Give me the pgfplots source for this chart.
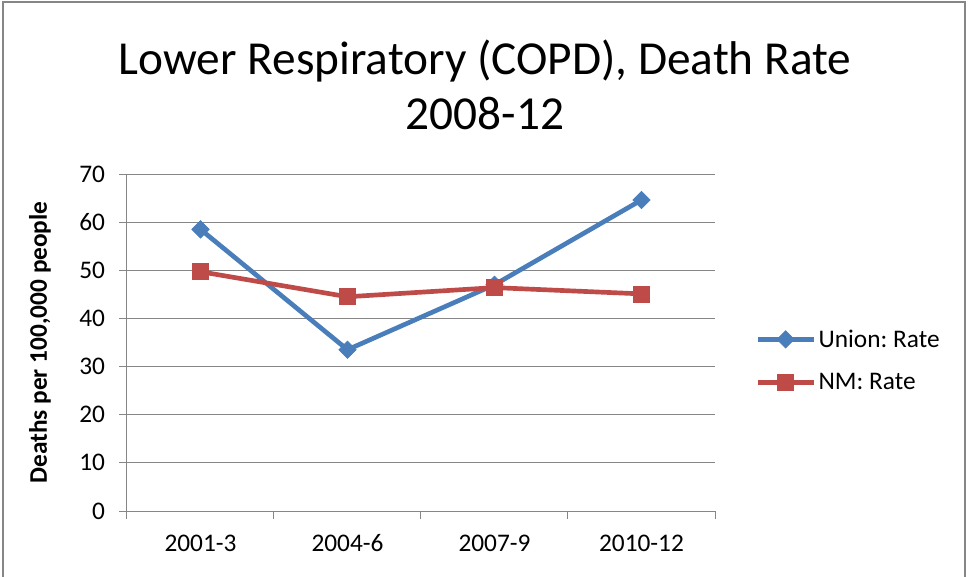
\documentclass[border=0pt]{standalone}
\usepackage{fontspec}
\setmainfont{Carlito}
\usepackage{pgfplots}
\pgfplotsset{compat=1.18}

\definecolor{unionblue}{HTML}{4A7EBB}
\definecolor{nmred}{HTML}{BE4B48}
\definecolor{gridgray}{HTML}{868686}

\frenchspacing
\begin{document}
\begin{tikzpicture}[x=0.75pt,y=0.75pt]
% picture frame, 968x576 px, origin at the plot area's lower left corner
\useasboundingbox (-127,-65) rectangle (841,511);
\draw[gridgray,line width=1.5pt] (-124,-70) -- (-124,509) -- (838,509) -- (838,-70);

\node[anchor=base,font=\fontsize{35.5}{42}\selectfont] at (358,436)
  {Lower Respiratory (COPD), Death Rate};
\node[anchor=base,font=\fontsize{35.5}{42}\selectfont] at (358,381) {2008-12};

\begin{axis}[
  at={(0,0)}, anchor=south west,
  scale only axis,
  width=441pt, height=252.75pt,
  xmin=-0.5, xmax=3.5,
  ymin=0, ymax=70,
  ytick={0,10,...,70},
  xtick={0,1,2,3},
  xticklabels={2001-3,2004-6,2007-9,2010-12},
  minor xtick={-0.5,0.5,1.5,2.5,3.5},
  major x tick style={draw=none},
  minor x tick style={gridgray,line width=0.75pt},
  y tick style={gridgray,line width=0.75pt},
  tick align=outside,
  major tick length=6pt,
  minor tick length=6pt,
  axis x line*=bottom,
  axis y line*=left,
  axis line style={gridgray,line width=0.75pt},
  ymajorgrids,
  major grid style={gridgray,line width=0.75pt},
  /pgf/number format/assume math mode=true,
  ticklabel style={font=\fontsize{19}{22}\selectfont},
  yticklabel style={xshift=-7pt},
  xticklabel style={yshift=-8pt,text height=13pt,text depth=1pt},
  ylabel={\bfseries Deaths per 100,000 people},
  ylabel style={at={(axis description cs:-0.148,0.5)},anchor=center,
    font=\fontsize{19}{22}\selectfont},
  legend style={at={(axis description cs:1.068,0.4466)},anchor=west,
    draw=none,fill=none,inner sep=0pt,row sep=14pt,
    font=\fontsize{19}{22}\selectfont},
  legend cell align=left,
  legend image code/.code={%
    \draw[mark repeat=2,mark phase=2]
      plot coordinates {(0pt,0pt) (21pt,0pt) (42pt,0pt)};},
]
\addplot[unionblue,line width=3.5pt,mark=square*,
  mark options={rotate=45,solid,line width=0.5pt},mark size=4.6pt]
  coordinates {(0,58.5) (1,33.5) (2,47.0) (3,64.6)};
\addlegendentry{Union: Rate}
\addplot[nmred,line width=3.5pt,mark=square*,
  mark options={solid,line width=0.5pt},mark size=6pt]
  coordinates {(0,49.7) (1,44.5) (2,46.4) (3,45.1)};
\addlegendentry{NM: Rate}
\end{axis}
\end{tikzpicture}
\end{document}
